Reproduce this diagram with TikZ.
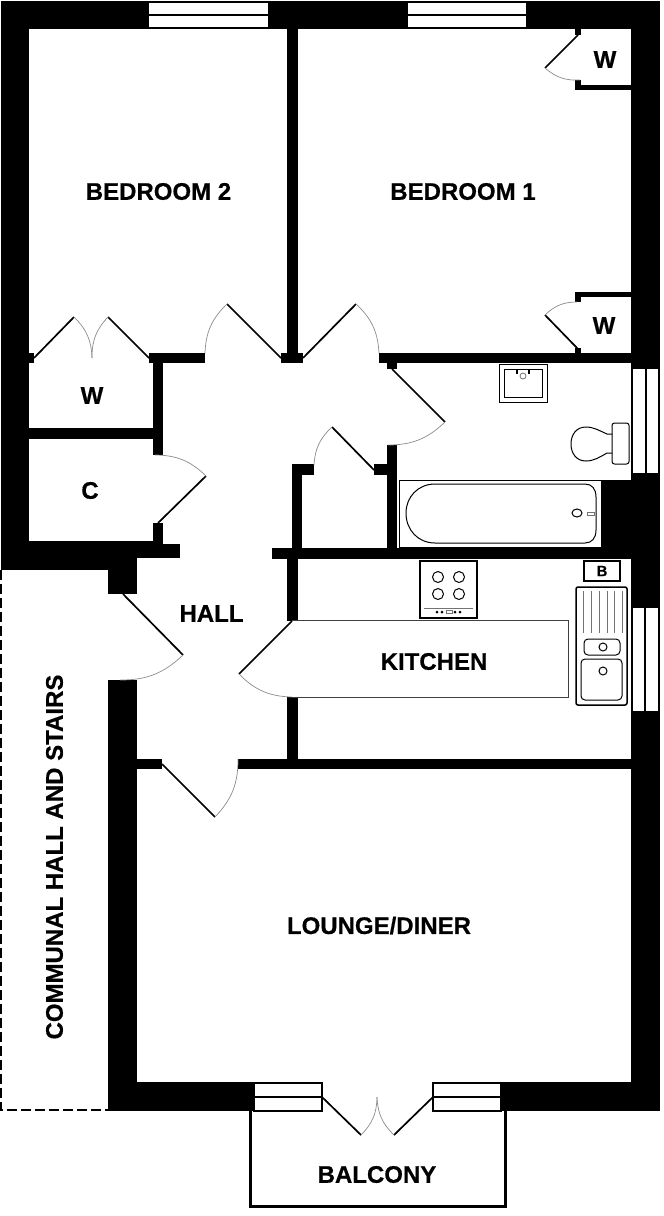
\documentclass[tikz,border=0pt]{standalone}
\usepackage{fontspec}
\setmainfont{Liberation Sans}
\newfontfamily\labfont[FakeBold=0.5]{Liberation Sans Bold}
\tikzset{
  x=1pt,y=-1pt,
  wall/.style={fill=black,draw=none},
  glass/.style={fill=white,draw=black,line width=1.2pt},
  leaf/.style={draw=black,line width=1.7pt},
  swing/.style={draw=black!45,line width=.7pt},
  fit1/.style={draw=black,line width=1pt},
  fit2/.style={draw=black,line width=1.5pt},
  thinfit/.style={draw=black!55,line width=.8pt},
  label/.style={font=\labfont\fontsize{24}{24}\selectfont,inner sep=0pt},
}
\newcommand{\wl}[4]{\fill[wall] (#1,#2) rectangle (#3,#4);}
\begin{document}
\begin{tikzpicture}
\useasboundingbox[fill=white] (0,0) rectangle (664,1216);
% outer walls
\wl{1}{1}{660}{29}
\wl{1}{1}{29}{570}
\wl{631}{1}{660}{1111}
\wl{1}{541}{108}{570}
\wl{29}{541}{153}{558}
\wl{108}{544}{180}{558}
\wl{108}{544}{137}{594}
\wl{108}{680}{137}{1111}
\wl{108}{1082}{254}{1111}
\wl{501}{1082}{660}{1111}
% inner walls, bedrooms and closets
\wl{287}{29}{298}{353}
\wl{281}{353}{303}{363}
\wl{29}{353}{34}{363}
\wl{149}{353}{205}{363}
\wl{153}{363}{163}{455}
\wl{29}{428}{153}{439}
\wl{153}{523}{163}{544}
\wl{379}{353}{631}{363}
% wardrobes
\wl{575}{29}{581}{35}
\wl{575}{80}{581}{90}
\wl{575}{85}{631}{90}
\wl{575}{292}{631}{297}
\wl{575}{292}{581}{302}
\wl{575}{348}{581}{353}
% bathroom and cupboard
\wl{387}{363}{397}{369}
\wl{387}{445}{397}{549}
\wl{374}{464}{387}{475}
\wl{292}{464}{314}{475}
\wl{292}{464}{302}{549}
\wl{272}{548}{631}{559}
% kitchen and lounge
\wl{287}{559}{298}{621}
\wl{287}{697}{298}{759}
\wl{238}{759}{631}{769}
\wl{137}{759}{162}{769}
% windows
\path[glass] (148,2) rectangle (269,28);
\draw[fit2] (148,15) -- (269,15);
\path[glass] (407,2) rectangle (527,28);
\draw[fit2] (407,15) -- (527,15);
\path[glass] (632,368) rectangle (659,474);
\draw[glass] (646,368) -- (646,474);
\path[glass] (632,607) rectangle (659,712);
\draw[glass] (645,607) -- (645,712);
\path[glass] (254,1083) rectangle (322,1111);
\draw[fit2] (254,1097) -- (322,1097);
\path[glass] (433,1083) rectangle (501,1111);
\draw[fit2] (433,1097) -- (501,1097);
% door leaves
\draw[leaf] (34,358) -- (74,317);
\draw[leaf] (149,358) -- (108,317);
\draw[leaf] (281,358) -- (227,304);
\draw[leaf] (303,358) -- (356,304);
\draw[leaf] (158,523) -- (206,476);
\draw[leaf] (392,369) -- (445,422);
\draw[leaf] (374,470) -- (332,427);
\draw[leaf] (123,594) -- (183,655);
\draw[leaf] (292,621) -- (239,674);
\draw[leaf] (162,764) -- (215,817);
\draw[leaf] (322,1097) -- (361,1135);
\draw[leaf] (433,1097) -- (394,1135);
\draw[leaf] (578,35) -- (545,68);
\draw[leaf] (578,349) -- (545,315);
% door swings
\draw[swing] (74,317) to[bend left=22] (92,358);
\draw[swing] (92,358) to[bend left=22] (108,317);
\draw[swing] (205,353) to[bend left=22] (227,304);
\draw[swing] (356,304) to[bend left=22] (379,353);
\draw[swing] (155,455) to[bend left=22] (206,476);
\draw[swing] (445,422) to[bend left=22] (388,445);
\draw[swing] (314,465) to[bend left=22] (332,427);
\draw[swing] (183,655) to[bend left=22] (120,680);
\draw[swing] (292,697) to[bend left=22] (239,674);
\draw[swing] (238,759) to[bend left=22] (215,817);
\draw[swing] (377,1097) to[bend left=22] (361,1135);
\draw[swing] (394,1135) to[bend left=22] (377,1097);
\draw[swing] (580,80) to[bend left=22] (545,68);
\draw[swing] (545,315) to[bend left=22] (577,302);
% communal hall dashed outline
\draw[black,line width=1.7pt,dash pattern=on 10pt off 4pt] (1,570) -- (1,1110) -- (108,1110);
% balcony
\draw[black,line width=3pt] (250,1111) -- (250,1206) -- (505,1206) -- (505,1111);
% kitchen worktop
\draw[draw=black!75,line width=1pt] (292,620) -- (568,620) -- (568,697) -- (292,697);
% bathroom basin
\draw[fit1] (499,364) rectangle (547,402);
\draw[fit1] (504,369) rectangle (542,397);
\draw[black,line width=1.5pt] (517,369) -- (517,374) (529,369) -- (529,374);
\draw[thinfit] (523,376) circle (3);
% toilet
\draw[fit1,rounded corners=2.5pt] (612,423) rectangle (629,464);
\draw[fit1] (612,434) -- (607,434) .. controls (600,431) and (594,427) .. (586,427)
  .. controls (576,427) and (571,435) .. (571,444)
  .. controls (571,453) and (576,461) .. (586,461)
  .. controls (594,461) and (600,457) .. (607,453) -- (612,453);
% bath
\fill[wall] (601,480) rectangle (631,548);
\draw[fit1] (399,480) rectangle (601,547);
\draw[fit1] (596,497) .. controls (596,489) and (592,484) .. (585,484) -- (435,484)
  .. controls (418,484) and (406,497) .. (406,513)
  .. controls (406,530) and (418,543) .. (435,543) -- (585,543)
  .. controls (592,543) and (596,538) .. (596,530) -- cycle;
\draw[fit1] (577,513) ellipse (5 and 4);
\draw[thinfit] (587,512) rectangle (594,515);
% hob
\draw[fit2] (420,561) rectangle (477,618);
\draw[fit1] (438,577) circle (5.5);
\draw[fit1] (459,577) circle (5.5);
\draw[fit1] (438,594) circle (5.5);
\draw[fit1] (459,594) circle (5.5);
\draw[thinfit] (424,608) -- (473,608);
\fill[black] (437,612) circle (1.5) (442,612) circle (1.5) (455,612) circle (1.5) (460,612) circle (1.5);
\draw[thinfit] (446,610.5) rectangle (452,613.5);
% boiler
\draw[fit2] (584,561) rectangle (620,581);
% sink unit
\draw[fit2,rounded corners=2pt] (576,587) rectangle (627,705);
\draw[thinfit,line width=1pt] (583,591) -- (583,633) (591,591) -- (591,633) (599,591) -- (599,633)
  (607,591) -- (607,633) (614,591) -- (614,633) (622,591) -- (622,633);
\draw[fit1,rounded corners=4pt] (584,639) rectangle (620,655);
\draw[fit1] (603,647) circle (4);
\draw[fit1,rounded corners=4pt] (581,659) rectangle (622,700);
\draw[fit1] (603,671) circle (4);
% labels
\node[label] (bed2) at (158.5,191.5) {BEDROOM 2};
\node[label] (bed1) at (463,191.5) {BEDROOM 1};
\node[label] (w1) at (605,59.5) {W};
\node[label] (w2) at (604,325.5) {W};
\node[label] (w3) at (92,395.5) {W};
\node[label] (cup) at (90,490.5) {C};
\node[label] (hall) at (211.5,613.5) {HALL};
\node[label] (kit) at (434,661.5) {KITCHEN};
\node[label] (lounge) at (379,925.5) {LOUNGE/DINER};
\node[label] (balc) at (377,1174.5) {BALCONY};
\node[label,rotate=90] (comm) at (54.5,857) {COMMUNAL HALL AND STAIRS};
\node[label,font=\labfont\fontsize{15}{15}\selectfont] (boil) at (602,571) {B};
\end{tikzpicture}
\end{document}
